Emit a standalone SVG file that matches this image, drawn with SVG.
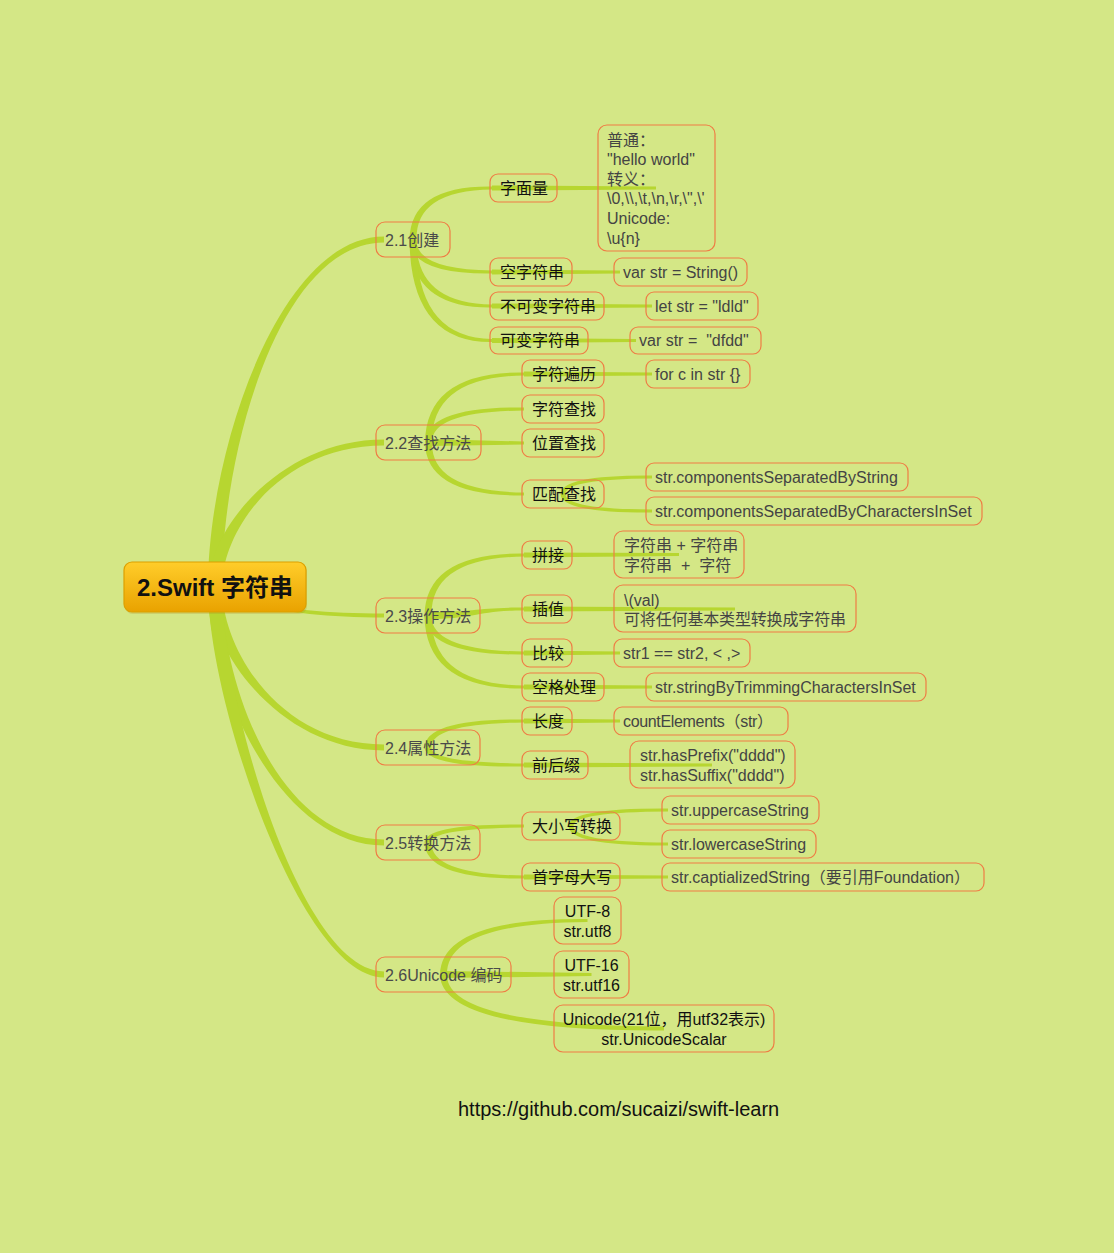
<svg xmlns="http://www.w3.org/2000/svg" width="1114" height="1253" viewBox="0 0 1114 1253">
<defs>
<linearGradient id="rootGrad" x1="0" y1="0" x2="0" y2="1">
<stop offset="0" stop-color="#ffcd2a"/>
<stop offset="1" stop-color="#e9a200"/>
</linearGradient>
<style>
text{font-family:"Liberation Sans","Noto Sans CJK SC",sans-serif;font-size:16px}
.box{fill:none;stroke:#ef7d45;stroke-width:1.2}
.t1{fill:#4a4a4a}
.t2{fill:#111}
.t3{fill:#444}
.conn path{fill:#b7d630;stroke:none}
.root-t{font-size:24px;font-weight:bold;fill:#111}
.foot{font-size:20px;fill:#111}
</style>
</defs>
<rect width="1114" height="1253" fill="#d4e786"/>

<g id="connectors" class="conn">
<path d="M208,587 C208,450 280,236.5 384,236.5 L384,242.5 C280,242.5 222,450 222,587 Z"/>
<path d="M208,587 C208,530 280,439.5 384,439.5 L384,445.5 C280,445.5 222,530 222,587 Z"/>
<path d="M212,587 C212,598 280,617.5 384,617.5 L384,613.5 C280,613.5 218,598 218,587 Z"/>
<path d="M208,587 C208,650 280,750.5 384,750.5 L384,744.5 C280,744.5 222,650 222,587 Z"/>
<path d="M208,587 C208,688 280,845.5 384,845.5 L384,839.5 C280,839.5 222,688 222,587 Z"/>
<path d="M208,587 C208,700 300,977.5 384,977.5 L384,971.5 C300,971.5 222,700 222,587 Z"/>

<path d="M409.5,239.5 Q410.5,185.5 492,186.5 L492,189.5 Q415.5,190.5 416.5,239.5 Z"/>
<path d="M409.5,239.5 Q410.5,274.5 492,273.5 L492,270.5 Q415.5,269.5 416.5,239.5 Z"/>
<path d="M409.5,239.5 Q410.5,308.5 492,307.5 L492,304.5 Q415.5,303.5 416.5,239.5 Z"/>
<path d="M409.5,239.5 Q410.5,343 492,342 L492,339 Q415.5,338 416.5,239.5 Z"/>

<path d="M425,442.5 Q426,371.5 524,372.5 L524,375.5 Q431,376.5 432,442.5 Z"/>
<path d="M425,442.5 Q426,406.5 524,407.5 L524,410.5 Q431,411.5 432,442.5 Z"/>
<path d="M428.5,439 L524,441.5 L524,444.5 L428.5,446 Z"/>
<path d="M425,442.5 Q426,496.5 524,495.5 L524,492.5 Q431,491.5 432,442.5 Z"/>

<path d="M424.5,615.5 Q425.5,552.5 524,553.5 L524,556.5 Q430.5,557.5 431.5,615.5 Z"/>
<path d="M428,612 C476,612 476,607.5 524,607.5 L524,610.5 C476,610.5 476,619 428,619 Z"/>
<path d="M424.5,615.5 Q425.5,655.5 524,654.5 L524,651.5 Q430.5,650.5 431.5,615.5 Z"/>
<path d="M424.5,615.5 Q425.5,689.5 524,688.5 L524,685.5 Q430.5,684.5 431.5,615.5 Z"/>

<path d="M424.5,747.5 Q425.5,718.5 524,719.5 L524,722.5 Q430.5,723.5 431.5,747.5 Z"/>
<path d="M424.5,747.5 Q425.5,767.5 524,766.5 L524,763.5 Q430.5,762.5 431.5,747.5 Z"/>

<path d="M424.5,842.5 Q425.5,823.5 524,824.5 L524,827.5 Q430.5,828.5 431.5,842.5 Z"/>
<path d="M424.5,842.5 Q425.5,879.5 524,878.5 L524,875.5 Q430.5,874.5 431.5,842.5 Z"/>

<path d="M440,974.5 Q441,918 587.5,919 L587.5,922 Q446,923 447,974.5 Z"/>
<path d="M443.5,971 L591.5,973 L591.5,976 L443.5,978 Z"/>
<path d="M440,974.5 Q441,1031.5 664,1030.5 L664,1026.5 Q446,1025.5 447,974.5 Z"/>

<path d="M492,185.5 L656,186.5 L656,189.5 L492,190.5 Z"/>
<path d="M492,269.5 L620,270.5 L620,273.5 L492,274.5 Z"/>
<path d="M492,303.5 L652,304.5 L652,307.5 L492,308.5 Z"/>
<path d="M492,338 L636,339 L636,342 L492,343 Z"/>
<path d="M524,371.5 L652,372.5 L652,375.5 L524,376.5 Z"/>
<path d="M560.5,494 Q561,475 652,475.5 L652,478.5 Q565,479 565.5,494 Z"/>
<path d="M560.5,494 Q561,513 652,512.5 L652,509.5 Q565,509 565.5,494 Z"/>
<path d="M524,552.5 L679,553 L679,556 L524,557.5 Z"/>
<path d="M524,606.5 L735,607.5 L735,610.5 L524,611.5 Z"/>
<path d="M524,650.5 L620,651.5 L620,654.5 L524,655.5 Z"/>
<path d="M524,684.5 L652,685.5 L652,688.5 L524,689.5 Z"/>
<path d="M524,718.5 L620,719.5 L620,722.5 L524,723.5 Z"/>
<path d="M524,762.5 L712,763.5 L712,766.5 L524,767.5 Z"/>
<path d="M568.5,826 Q569,808 668,808.5 L668,811.5 Q573,812 573.5,826 Z"/>
<path d="M568.5,826 Q569,846 668,845.5 L668,842.5 Q573,842 573.5,826 Z"/>
<path d="M524,874.5 L668,875.5 L668,878.5 L524,879.5 Z"/>
</g>

<g id="root">
<rect x="125" y="564" width="182" height="50" rx="8" fill="#b08a20" opacity="0.25"/>
<rect x="124" y="562" width="182" height="50" rx="8" fill="url(#rootGrad)" stroke="#dca000" stroke-width="1.2"/>
<text class="root-t" x="215" y="595.5" text-anchor="middle">2.Swift 字符串</text>
</g>

<g id="n21"><rect class="box" x="376" y="222" width="74" height="35" rx="9"/><text class="t1" x="385" y="245.5">2.1创建</text></g>
<g id="n22"><rect class="box" x="376" y="425" width="105" height="35" rx="9"/><text class="t1" x="385" y="448.5">2.2查找方法</text></g>
<g id="n23"><rect class="box" x="376" y="598" width="104" height="35" rx="9"/><text class="t1" x="385" y="621.5">2.3操作方法</text></g>
<g id="n24"><rect class="box" x="376" y="730" width="104" height="35" rx="9"/><text class="t1" x="385" y="753.5">2.4属性方法</text></g>
<g id="n25"><rect class="box" x="376" y="825" width="104" height="35" rx="9"/><text class="t1" x="385" y="848.5">2.5转换方法</text></g>
<g id="n26"><rect class="box" x="376" y="957" width="135" height="35" rx="9"/><text class="t1" x="385" y="980.5">2.6Unicode 编码</text></g>

<g id="n211"><rect class="box" x="490" y="174" width="67" height="28" rx="8"/><text class="t2" x="500" y="193.5">字面量</text></g>
<g id="n212"><rect class="box" x="490" y="258" width="82" height="28" rx="8"/><text class="t2" x="500" y="277.5">空字符串</text></g>
<g id="n213"><rect class="box" x="490" y="292" width="114" height="28" rx="8"/><text class="t2" x="500" y="311.5">不可变字符串</text></g>
<g id="n214"><rect class="box" x="490" y="327" width="98" height="27" rx="8"/><text class="t2" x="500" y="346">可变字符串</text></g>

<g id="n221"><rect class="box" x="522" y="360" width="82" height="28" rx="8"/><text class="t2" x="532" y="379.5">字符遍历</text></g>
<g id="n222"><rect class="box" x="522" y="395" width="82" height="28" rx="8"/><text class="t2" x="532" y="414.5">字符查找</text></g>
<g id="n223"><rect class="box" x="522" y="429" width="82" height="28" rx="8"/><text class="t2" x="532" y="448.5">位置查找</text></g>
<g id="n224"><rect class="box" x="522" y="480" width="82" height="28" rx="8"/><text class="t2" x="532" y="499.5">匹配查找</text></g>

<g id="n231"><rect class="box" x="522" y="541" width="50" height="28" rx="8"/><text class="t2" x="532" y="560.5">拼接</text></g>
<g id="n232"><rect class="box" x="522" y="595" width="50" height="28" rx="8"/><text class="t2" x="532" y="614.5">插值</text></g>
<g id="n233"><rect class="box" x="522" y="639" width="50" height="28" rx="8"/><text class="t2" x="532" y="658.5">比较</text></g>
<g id="n234"><rect class="box" x="522" y="673" width="82" height="28" rx="8"/><text class="t2" x="532" y="692.5">空格处理</text></g>

<g id="n241"><rect class="box" x="522" y="707" width="50" height="28" rx="8"/><text class="t2" x="532" y="726.5">长度</text></g>
<g id="n242"><rect class="box" x="522" y="751" width="66" height="28" rx="8"/><text class="t2" x="532" y="770.5">前后缀</text></g>

<g id="n251"><rect class="box" x="522" y="812" width="98" height="28" rx="8"/><text class="t2" x="532" y="831.5">大小写转换</text></g>
<g id="n252"><rect class="box" x="522" y="863" width="98" height="28" rx="8"/><text class="t2" x="532" y="882.5">首字母大写</text></g>

<g id="l211"><rect class="box" x="598" y="125" width="117" height="126" rx="9"/>
<text class="t3" x="607" y="145.5">普通：</text>
<text class="t3" x="607" y="165.1">"hello world"</text>
<text class="t3" x="607" y="184.7">转义：</text>
<text class="t3" x="607" y="204.3">\0,\\,\t,\n,\r,\",\'</text>
<text class="t3" x="607" y="223.9">Unicode:</text>
<text class="t3" x="607" y="243.5">\u{n}</text>
</g>
<g id="l212"><rect class="box" x="614" y="258" width="133" height="28" rx="8"/><text class="t3" x="623" y="277.5">var str = String()</text></g>
<g id="l213"><rect class="box" x="646" y="292" width="112" height="28" rx="8"/><text class="t3" x="655" y="311.5">let str = "ldld"</text></g>
<g id="l214"><rect class="box" x="630" y="327" width="131" height="27" rx="8"/><text class="t3" x="639" y="346" xml:space="preserve">var str =  "dfdd"</text></g>

<g id="l221"><rect class="box" x="646" y="360" width="104" height="28" rx="8"/><text class="t3" x="655" y="379.5">for c in str {}</text></g>
<g id="l2241"><rect class="box" x="646" y="463" width="262" height="28" rx="8"/><text class="t3" x="655" y="482.5">str.componentsSeparatedByString</text></g>
<g id="l2242"><rect class="box" x="646" y="497" width="336" height="28" rx="8"/><text class="t3" x="655" y="516.5">str.componentsSeparatedByCharactersInSet</text></g>

<g id="l231"><rect class="box" x="614" y="531" width="130" height="47" rx="9"/>
<text class="t3" x="624" y="550.5">字符串 + 字符串</text>
<text class="t3" x="624" y="570.5" xml:space="preserve">字符串  +  字符</text>
</g>
<g id="l232"><rect class="box" x="614" y="585" width="242" height="47" rx="9"/>
<text class="t3" x="624" y="605.5">\(val)</text>
<text class="t3" x="624" y="625" textLength="222" lengthAdjust="spacing">可将任何基本类型转换成字符串</text>
</g>
<g id="l233"><rect class="box" x="614" y="639" width="136" height="28" rx="8"/><text class="t3" x="623" y="658.5">str1 == str2, &lt; ,&gt;</text></g>
<g id="l234"><rect class="box" x="646" y="673" width="280" height="28" rx="8"/><text class="t3" x="655" y="692.5">str.stringByTrimmingCharactersInSet</text></g>

<g id="l241"><rect class="box" x="614" y="707" width="174" height="28" rx="8"/><text class="t3" x="623" y="726.5" textLength="150" lengthAdjust="spacing">countElements（str）</text></g>
<g id="l242"><rect class="box" x="630" y="741" width="165" height="47" rx="9"/>
<text class="t3" x="640" y="761">str.hasPrefix("dddd")</text>
<text class="t3" x="640" y="781">str.hasSuffix("dddd")</text>
</g>

<g id="l2511"><rect class="box" x="662" y="796" width="157" height="28" rx="8"/><text class="t3" x="671" y="815.5">str.uppercaseString</text></g>
<g id="l2512"><rect class="box" x="662" y="830" width="154" height="28" rx="8"/><text class="t3" x="671" y="849.5">str.lowercaseString</text></g>
<g id="l252"><rect class="box" x="662" y="863" width="322" height="28" rx="8"/><text class="t3" x="671" y="882.5" textLength="299" lengthAdjust="spacing">str.captializedString（要引用Foundation）</text></g>

<g id="l261"><rect class="box" x="554" y="897" width="67" height="47" rx="9"/>
<text class="t2" x="587.5" y="917" text-anchor="middle">UTF-8</text>
<text class="t2" x="587.5" y="937" text-anchor="middle">str.utf8</text>
</g>
<g id="l262"><rect class="box" x="554" y="951" width="75" height="47" rx="9"/>
<text class="t2" x="591.5" y="971" text-anchor="middle">UTF-16</text>
<text class="t2" x="591.5" y="991" text-anchor="middle">str.utf16</text>
</g>
<g id="l263"><rect class="box" x="554" y="1005" width="220" height="47" rx="9"/>
<text class="t2" x="664" y="1025" text-anchor="middle">Unicode(21位，用utf32表示)</text>
<text class="t2" x="664" y="1045" text-anchor="middle">str.UnicodeScalar</text>
</g>

<text class="foot" x="458" y="1116">https://github.com/sucaizi/swift-learn</text>
</svg>
